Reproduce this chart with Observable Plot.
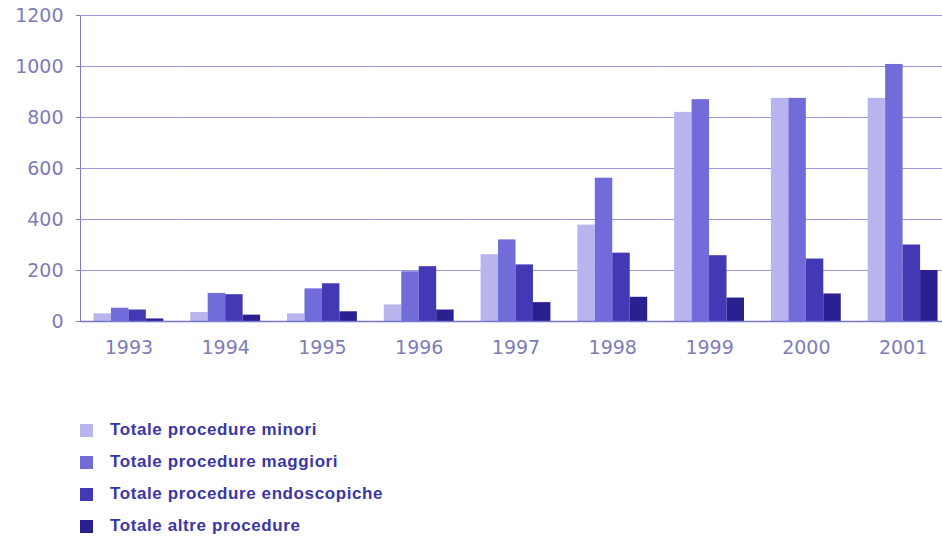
<!DOCTYPE html>
<html>
<head>
<meta charset="utf-8">
<script src="https://cdn.jsdelivr.net/npm/d3@7"></script>
<script src="https://cdn.jsdelivr.net/npm/@observablehq/plot@0.6"></script>
<style>
  html, body { margin: 0; padding: 0; background: #fff; width: 942px; height: 540px; overflow: hidden; }
  #legend { margin-left: 80px; margin-top: 44px; font-family: "Liberation Sans", Arial, sans-serif; font-weight: bold; font-size: 17px; letter-spacing: 0.6px; color: #3b36a4; }
  .row { display: flex; align-items: center; height: 32px; }
  .sw { width: 13px; height: 13px; margin-right: 17px; }
</style>
</head>
<body>
<div id="chart"></div>
<div id="legend"></div>
<script>
const years = ["1993", "1994", "1995", "1996", "1997", "1998", "1999", "2000", "2001"];
const series = ["Totale procedure minori", "Totale procedure maggiori", "Totale procedure endoscopiche", "Totale altre procedure"];
const minori = [30, 35, 30, 65, 262, 378, 820, 875, 875];
const maggiori = [52, 110, 128, 195, 320, 562, 870, 875, 1008];
const endoscopiche = [45, 105, 148, 215, 222, 268, 258, 245, 300];
const altre = [10, 25, 38, 45, 74, 95, 92, 108, 200];
const yTicks = [0, 200, 400, 600, 800, 1000, 1200];
const colors = ["#b8b4ee", "#726cda", "#4339b4", "#2a2090"];

const values = [minori, maggiori, endoscopiche, altre];
const data = years.flatMap((y, i) => series.map((s, j) => ({year: y, series: s, value: values[j][i]})));

const chart = Plot.plot({
  width: 942,
  height: 370,
  marginTop: 15,
  marginBottom: 49,
  marginLeft: 80,
  marginRight: -9,
  style: {fontFamily: "DejaVu Sans", fontSize: "19px", color: "#7e7cb8", background: "white"},
  fx: {domain: years, padding: 0, round: false, tickSize: 0, tickPadding: 19, label: null, axis: "bottom"},
  x: {domain: series, axis: null, round: false, paddingInner: 0, paddingOuter: 0.77},
  y: {domain: [0, 1200], ticks: yTicks, tickFormat: d => String(d), tickSize: 4, tickPadding: 13, label: null, line: true},
  color: {domain: series, range: colors},
  marks: [
    Plot.ruleY(yTicks, {stroke: "#9a98dc", strokeWidth: 1.2}),
    Plot.barY(data, {fx: "year", x: "series", y: "value", fill: "series"}),
    Plot.ruleY([0], {stroke: "#7a76cc", strokeWidth: 1.5})
  ]
});
document.getElementById("chart").appendChild(chart);

const legend = document.getElementById("legend");
series.forEach((s, i) => {
  const row = document.createElement("div");
  row.className = "row";
  const sw = document.createElement("div");
  sw.className = "sw";
  sw.style.background = colors[i];
  const t = document.createElement("span");
  t.textContent = s;
  row.appendChild(sw);
  row.appendChild(t);
  legend.appendChild(row);
});
</script>
</body>
</html>
